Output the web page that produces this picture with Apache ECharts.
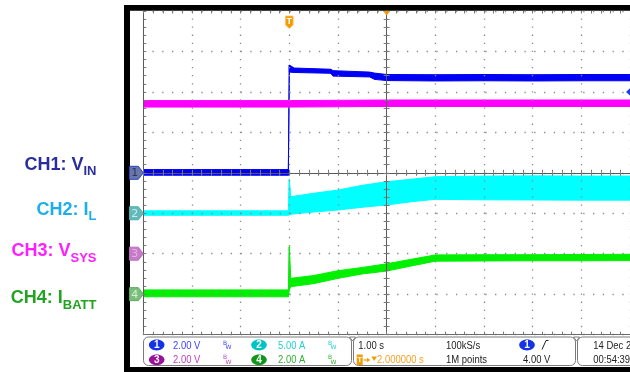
<!DOCTYPE html>
<html><head><meta charset="utf-8">
<script src="https://cdn.jsdelivr.net/npm/echarts@6/dist/echarts.min.js"></script>
<style>html,body{margin:0;padding:0;background:#fff}#c{width:630px;height:372px}</style>
</head><body><div id="c"></div>
<script>
// ---------------- data ----------------
const channelNames = ['CH1: V', 'CH2: I', 'CH3: V', 'CH4: I'];
const channelSubs  = ['IN', 'L', 'SYS', 'BATT'];
const unitsPerDiv  = [2, 5, 2, 2];          // V/div or A/div
const refDiv       = [0, -1, -2, -3];       // ground marker, divisions from screen centre
const secPerDiv    = 1;
const hDelay       = 2;                     // s, time at screen centre
const trigLevel    = 4;                     // V on CH1

// CH1 VIN (V) band
const t1    = [-3, -0.02, 0, 0.1, 0.85, 0.9, 1.65, 1.75, 2.0, 3, 4, 5, 6, 7];
const vinHi = [0.16, 0.16, 5.33, 5.18, 5.12, 5.05, 4.98, 4.93, 4.86, 4.85, 4.86, 4.85, 4.86, 4.86];
const vinLo = [-0.12, -0.12, 4.98, 4.96, 4.92, 4.78, 4.74, 4.62, 4.56, 4.54, 4.55, 4.54, 4.55, 4.55];
// CH2 IL (A) band
const t2    = [-3, -0.02, 0, 0.03, 0.5, 1.0, 1.5, 2.0, 2.5, 3.0, 4, 5, 6, 7];
const ilHi  = [0.3, 0.3, 4.2, 2.05, 2.47, 2.87, 3.45, 3.9, 4.2, 4.52, 4.6, 4.62, 4.6, 4.6];
const ilLo  = [-0.25, -0.25, -0.2, -0.12, 0.15, 0.4, 0.74, 1.02, 1.42, 1.72, 1.66, 1.64, 1.62, 1.62];
// CH3 VSYS (V) band
const t3     = [-3, 0, 2, 7];
const vsysHi = [7.57, 7.57, 7.6, 7.6];
const vsysLo = [7.25, 7.25, 7.28, 7.28];
// CH4 IBATT (A) band
const t4    = [-3, -0.02, 0, 0.03, 0.5, 1.0, 1.5, 2.0, 2.5, 3.0, 4, 5, 6, 7];
const ibHi  = [0.21, 0.21, 2.35, 0.78, 0.92, 1.16, 1.32, 1.5, 1.72, 1.94, 1.95, 1.95, 1.96, 1.97];
const ibLo  = [-0.13, -0.13, 0.2, 0.37, 0.52, 0.78, 1.0, 1.14, 1.39, 1.63, 1.64, 1.65, 1.65, 1.66];

// status bar texts
const chScaleText = ['2.00 V', '5.00 A', '2.00 V', '2.00 A'];
const timebaseText = '1.00 s';
const sampleText = '100kS/s';
const delayText = '2.000000 s';
const recordText = '1M points';
const trigLevelText = '4.00 V';
const dateText = '14 Dec 2';
const clockText = '00:54:39';

// ---------------- styles ----------------
const traceColor = ['#0000f5', '#00ffff', '#ff00ff', '#00f000'];
const labelColor = ['#2b2d9c', '#1eaee8', '#ff1eff', '#22a322'];
const badgeFill  = ['#1432e6', '#00c4c4', '#9a109a', '#10961a'];
const scaleColor = ['#3c3cff', '#22d0d0', '#c03cc0', '#30b030'];
const markerFill = ['#6877a8', '#66b8b8', '#c47cc8', '#7cbc7c'];
const markerStroke = ['#2a3ed0', '#44b0b0', '#c068c0', '#5aaa5a'];
const markerNum = ['#2c3560', '#bff0f0', '#e8b0e8', '#d0f5d0'];

const chart = echarts.init(document.getElementById('c'), null, {renderer: 'canvas'});

const bands = [
  {ch: 0, t: t1, lo: vinLo, hi: vinHi},
  {ch: 1, t: t2, lo: ilLo, hi: ilHi},
  {ch: 2, t: t3, lo: vsysLo, hi: vsysHi},
  {ch: 3, t: t4, lo: ibLo, hi: ibHi}
];

function bandSeries(b) {
  const sc = unitsPerDiv[b.ch], r = refDiv[b.ch];
  const toX = v => (v - hDelay) / secPerDiv;
  const data = [];
  for (let i = 0; i < b.t.length - 1; i++) {
    data.push([toX(b.t[i]), r + b.lo[i] / sc, r + b.hi[i] / sc,
               toX(b.t[i + 1]), r + b.lo[i + 1] / sc, r + b.hi[i + 1] / sc]);
  }
  const color = traceColor[b.ch];
  return {
    type: 'custom', coordinateSystem: 'cartesian2d', xAxisIndex: 0, yAxisIndex: 0,
    silent: true, z: 2, clip: true,
    encode: {x: [0, 3], y: [1, 2, 4, 5]},
    data: data,
    renderItem: function (params, api) {
      const a = api.coord([api.value(0), api.value(1)]);
      const b2 = api.coord([api.value(3), api.value(4)]);
      const c = api.coord([api.value(3), api.value(5)]);
      const d = api.coord([api.value(0), api.value(2)]);
      return {type: 'polygon', shape: {points: [a, b2, c, d]},
              style: {fill: color, stroke: color, lineWidth: 1}};
    }
  };
}

const G = {left: 143.3, top: 11, width: 489.4, height: 323.6};
const tickStyle = {color: '#7a7a7a', width: 1};
function xAx(extra) {
  return Object.assign({type: 'value', min: -5, max: 5, interval: 1, axisLabel: {show: false},
    splitLine: {show: false}, z: 5}, extra);
}
function yAx(extra) {
  return Object.assign({type: 'value', min: -4, max: 4, interval: 1, axisLabel: {show: false},
    splitLine: {show: false}, z: 5}, extra);
}

chart.setOption({
  animation: false,
  backgroundColor: '#ffffff',
  grid: [G, G, G],
  xAxis: [
    xAx({gridIndex: 0, position: 'bottom',
      axisLine: {show: true, onZero: false, lineStyle: {color: '#6a6a6a'}},
      axisTick: {show: true, inside: true, length: 3, lineStyle: tickStyle},
      minorTick: {show: true, splitNumber: 5, length: 3, lineStyle: tickStyle},
      splitLine: {show: true, lineStyle: {color: '#8a8a8a', width: 1.3, type: [1.3, 6.79], dashOffset: 0.65}}}),
    xAx({gridIndex: 0, position: 'top',
      axisLine: {show: false, onZero: false},
      axisTick: {show: true, inside: true, length: 2.5, lineStyle: tickStyle},
      minorTick: {show: true, splitNumber: 5, length: 2.5, lineStyle: tickStyle}}),
    xAx({gridIndex: 1, position: 'bottom',
      axisLine: {show: true, onZero: true, lineStyle: {color: '#5a5a5a'}},
      axisTick: {show: true, inside: false, length: 3, lineStyle: tickStyle},
      minorTick: {show: true, splitNumber: 5, length: 3, lineStyle: tickStyle}}),
    xAx({gridIndex: 2, position: 'bottom',
      axisLine: {show: true, onZero: true, lineStyle: {color: '#5a5a5a'}},
      axisTick: {show: true, inside: true, length: 3, lineStyle: tickStyle},
      minorTick: {show: true, splitNumber: 5, length: 3, lineStyle: tickStyle}})
  ],
  yAxis: [
    yAx({gridIndex: 0, position: 'left',
      axisLine: {show: true, onZero: false, lineStyle: {color: '#5a5a5a'}},
      axisTick: {show: true, inside: true, length: 3, lineStyle: tickStyle},
      minorTick: {show: true, splitNumber: 5, length: 3, lineStyle: tickStyle},
      splitLine: {show: true, lineStyle: {color: '#8a8a8a', width: 1.3, type: [1.3, 8.49], dashOffset: 0.65}}}),
    yAx({gridIndex: 1, position: 'left',
      axisLine: {show: true, onZero: true, lineStyle: {color: '#5a5a5a'}},
      axisTick: {show: true, inside: false, length: 3, lineStyle: tickStyle},
      minorTick: {show: true, splitNumber: 5, length: 3, lineStyle: tickStyle}}),
    yAx({gridIndex: 2, position: 'left',
      axisLine: {show: true, onZero: true, lineStyle: {color: '#5a5a5a'}},
      axisTick: {show: true, inside: true, length: 3, lineStyle: tickStyle},
      minorTick: {show: true, splitNumber: 5, length: 3, lineStyle: tickStyle}})
  ],
  series: bands.map(bandSeries)
});

// ---------------- decorations ----------------
const px = (x, y) => chart.convertToPixel({gridIndex: 0}, [x, y]);
const els = [];
// scope frame
els.push({type: 'rect', z: -10, silent: true, shape: {x: 124, y: 5, width: 520, height: 380}, style: {fill: '#000'}});
els.push({type: 'rect', z: -9, silent: true, shape: {x: 130, y: 10.7, width: 520, height: 356.3}, style: {fill: '#fff'}});

// channel labels at left
const labelTop = [156, 201, 242.5, 289.5];
for (let i = 0; i < 4; i++) {
  els.push({type: 'text', z: 10, silent: true, style: {
    text: '{a|' + channelNames[i] + '}{s|' + channelSubs[i] + '}',
    x: 96.5, y: labelTop[i], align: 'right', verticalAlign: 'top',
    rich: {
      a: {fontSize: 18, fontWeight: 'bold', fontFamily: 'Liberation Sans, Arial, sans-serif', lineHeight: 18, verticalAlign: 'top', fill: labelColor[i]},
      s: {fontSize: 13, fontWeight: 'bold', fontFamily: 'Liberation Sans, Arial, sans-serif', lineHeight: 13, padding: [9, 0, 0, 0], verticalAlign: 'top', fill: labelColor[i]}
    }
  }});
}

// ground markers
for (let i = 0; i < 4; i++) {
  const p = px(-5, refDiv[i]);
  const cy = p[1], xr = p[0];
  els.push({type: 'polygon', z: 10, silent: true,
    shape: {points: [[129.5, cy - 6.5], [xr - 5, cy - 6.5], [xr, cy], [xr - 5, cy + 6.5], [129.5, cy + 6.5]]},
    style: {fill: markerFill[i], stroke: markerStroke[i], lineWidth: 1}});
  els.push({type: 'text', z: 11, silent: true, style: {text: String(i + 1), x: 134.8, y: cy + 0.5,
    align: 'center', verticalAlign: 'middle', fill: markerNum[i], font: '11px "DejaVu Sans", sans-serif'}});
}

// trigger position marker "T"
const tp = px((0 - hDelay) / secPerDiv, 4);
els.push({type: 'polygon', z: 10, silent: true,
  shape: {points: [[tp[0] - 3.8, 16], [tp[0] + 3.8, 16], [tp[0] + 3.8, 25], [tp[0], 28.5], [tp[0] - 3.8, 25]]},
  style: {fill: '#f59a00', stroke: '#ffc060', lineWidth: 0.8}});
els.push({type: 'text', z: 11, silent: true, style: {text: 'T', x: tp[0], y: 21.5, align: 'center', verticalAlign: 'middle',
  fill: '#fff', font: 'bold 9px "Liberation Sans", sans-serif'}});
// horizontal delay marker (screen centre)
const cp = px(0, 4);
els.push({type: 'polygon', z: 10, silent: true,
  shape: {points: [[cp[0] - 3.5, 11], [cp[0] + 3.5, 11], [cp[0], 15.5]]}, style: {fill: '#f59a00'}});
// trigger level marker (CH1, 4.00 V) at right edge
const lp = px(5, refDiv[0] + trigLevel / unitsPerDiv[0]);
els.push({type: 'polygon', z: 10, silent: true,
  shape: {points: [[626, lp[1]], [631, lp[1] - 4.5], [631, lp[1] + 4.5]]}, style: {fill: '#1a3cf0'}});

// ---------------- status bar ----------------
const boxStroke = '#7a7a7a';
[[143.5, 208], [353.5, 222], [577.5, 80]].forEach(function (b) {
  els.push({type: 'rect', z: 10, silent: true, shape: {x: b[0], y: 337, width: b[1], height: 28.5, r: 5},
    style: {fill: '#fff', stroke: boxStroke, lineWidth: 1}});
});
[352.5, 576.5].forEach(function (x) {
  els.push({type: 'polygon', z: 11, silent: true, shape: {points: [[x - 3, 337], [x + 3, 337], [x, 341]]},
    style: {fill: '#fff', stroke: boxStroke, lineWidth: 1}});
});
const sFont = '11px "Liberation Sans", Arial, sans-serif';
const narrow = 0.86;
const row = [345, 359.8];
const badgePos = [[156.7, row[0]], [259, row[0]], [156.7, row[1]], [259, row[1]]];
const scaleX = [173, 278, 173, 278];
const bwX = [223, 328, 223, 328];
function badge(cx, cy, fill, n) {
  els.push({type: 'ellipse', z: 12, silent: true, shape: {cx: cx, cy: cy, rx: 7.8, ry: 5.4}, style: {fill: fill}});
  els.push({type: 'text', z: 13, silent: true, style: {text: n, x: cx, y: cy + 0.5, align: 'center', verticalAlign: 'middle',
    fill: '#fff', font: 'bold 10px "Liberation Sans", sans-serif'}});
}
function txt(s, x, y, color) {
  els.push({type: 'text', z: 12, silent: true, x: x, y: y + 0.5, scaleX: narrow,
    style: {text: s, x: 0, y: 0, align: 'left', verticalAlign: 'middle', fill: color, font: sFont}});
}
for (let i = 0; i < 4; i++) {
  badge(badgePos[i][0], badgePos[i][1], badgeFill[i], String(i + 1));
  txt(chScaleText[i], scaleX[i], badgePos[i][1], scaleColor[i]);
  els.push({type: 'text', z: 12, silent: true, style: {text: 'B', x: bwX[i], y: badgePos[i][1] - 2,
    align: 'left', verticalAlign: 'middle', fill: scaleColor[i], font: '6px "DejaVu Sans", sans-serif'}});
  els.push({type: 'text', z: 12, silent: true, style: {text: 'W', x: bwX[i] + 2.5, y: badgePos[i][1] + 2.5,
    align: 'left', verticalAlign: 'middle', fill: scaleColor[i], font: '6px "DejaVu Sans", sans-serif'}});
}
txt(timebaseText, 358.3, row[0], '#222');
txt(sampleText, 446, row[0], '#222');
badge(527, row[0], badgeFill[0], '1');
els.push({type: 'polyline', z: 12, silent: true, shape: {points: [[542, 349.5], [546, 340.5], [548.5, 340.5]]},
  style: {stroke: '#222', lineWidth: 1, fill: null}});
// delay row
els.push({type: 'rect', z: 12, silent: true, shape: {x: 356.7, y: 354.5, width: 6, height: 10.5}, style: {fill: '#f59a00'}});
els.push({type: 'text', z: 13, silent: true, style: {text: 'T', x: 359.7, y: 360, align: 'center', verticalAlign: 'middle',
  fill: '#fff', font: 'bold 8px "Liberation Sans", sans-serif'}});
els.push({type: 'polyline', z: 12, silent: true, shape: {points: [[363.5, 360], [369.5, 360]]}, style: {stroke: '#f59a00', lineWidth: 1.2}});
els.push({type: 'polygon', z: 12, silent: true, shape: {points: [[367, 357.8], [370, 360], [367, 362.2]]}, style: {fill: '#f59a00'}});
els.push({type: 'polygon', z: 12, silent: true, shape: {points: [[371.3, 356.5], [377, 356.5], [374.15, 361]]}, style: {fill: '#f59a00'}});
txt(delayText, 377, row[1], '#f5a020');
txt(recordText, 446, row[1], '#222');
txt(trigLevelText, 523, row[1], '#222');
txt(dateText, 593.3, row[0], '#222');
txt(clockText, 593.3, row[1], '#222');

chart.setOption({graphic: {elements: els}});
</script>
</body></html>
